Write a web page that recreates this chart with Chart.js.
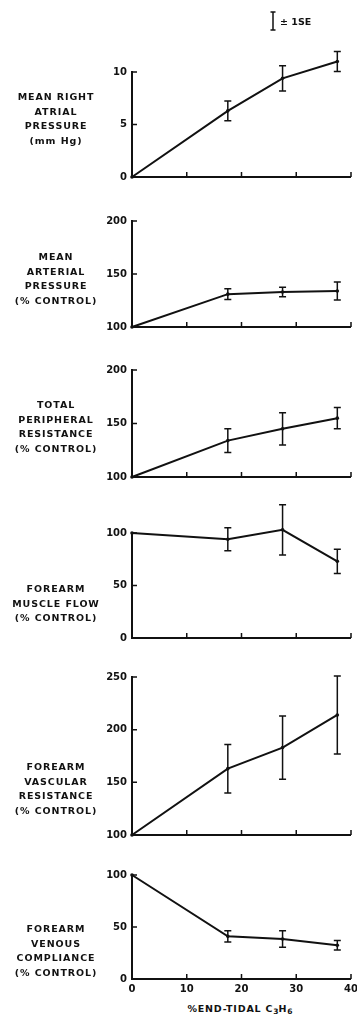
<!DOCTYPE html>
<html>
<head>
<meta charset="utf-8">
<script src="https://cdn.jsdelivr.net/npm/chart.js@4.4.1/dist/chart.umd.min.js"></script>
<style>
  body { margin: 0; background: #fff; width: 357px; height: 1018px; position: relative; overflow: hidden; font-family: "DejaVu Sans", sans-serif; color: #111; }
  canvas { position: absolute; left: 0; }
  .lbl { position: absolute; left: 0; width: 112px; text-align: center; font-weight: bold; font-size: 9.5px; letter-spacing: 0.9px; line-height: 14.5px; }
  .xtitle { position: absolute; left: 175px; top: 1003px; width: 130px; text-align: center; font-weight: bold; font-size: 9.5px; letter-spacing: 0.8px; }
  .xtitle sub { font-size: 7.5px; vertical-align: -2px; letter-spacing: 0; }
</style>
</head>
<body>
<div class="xtitle">%END-TIDAL C<sub>3</sub>H<sub>6</sub></div>
<script>
// % end-tidal C3H6
const xValues = [0, 17.5, 27.5, 37.5];
const xTicks = [0, 10, 20, 30, 40];

const rightAtrial = [0, 6.3, 9.4, 11.0];
const rightAtrialSE = [0, 0.95, 1.2, 0.95];

const arterialPressure = [100, 131, 133, 134];
const arterialPressureSE = [0, 5, 4.5, 8.5];

const peripheralRes = [100, 134, 145, 155];
const peripheralResSE = [0, 11, 15, 10];

const muscleFlow = [100, 94, 103, 73];
const muscleFlowSE = [0, 11, 24, 11.5];

const vascularRes = [100, 163, 183, 214];
const vascularResSE = [0, 23, 30, 37];

const venousCompliance = [100, 41, 38.5, 32.5];
const venousComplianceSE = [0, 5.5, 8, 4.5];

const labels = [
  ['MEAN RIGHT', 'ATRIAL', 'PRESSURE', '(mm Hg)'],
  ['MEAN', 'ARTERIAL', 'PRESSURE', '(% CONTROL)'],
  ['TOTAL', 'PERIPHERAL', 'RESISTANCE', '(% CONTROL)'],
  ['FOREARM', 'MUSCLE FLOW', '(% CONTROL)'],
  ['FOREARM', 'VASCULAR', 'RESISTANCE', '(% CONTROL)'],
  ['FOREARM', 'VENOUS', 'COMPLIANCE', '(% CONTROL)']
];

// layout: pixel rows of yMin / yMax, label top
const panels = [
  { values: rightAtrial, se: rightAtrialSE, min: 0, max: 12.5, axisTop: 10, ticks: [0, 5, 10], pBot: 177, pTop: 45.75, lblTop: 90 },
  { values: arterialPressure, se: arterialPressureSE, min: 100, max: 200, axisTop: 200, ticks: [100, 150, 200], pBot: 327, pTop: 221, lblTop: 250 },
  { values: peripheralRes, se: peripheralResSE, min: 100, max: 200, axisTop: 200, ticks: [100, 150, 200], pBot: 477, pTop: 370, lblTop: 398 },
  { values: muscleFlow, se: muscleFlowSE, min: 0, max: 130, axisTop: 100, ticks: [0, 50, 100], pBot: 638, pTop: 501.5, lblTop: 582 },
  { values: vascularRes, se: vascularResSE, min: 100, max: 260, axisTop: 250, ticks: [100, 150, 200, 250], pBot: 835, pTop: 666.5, lblTop: 760 },
  { values: venousCompliance, se: venousComplianceSE, min: 0, max: 100, axisTop: 100, ticks: [0, 50, 100], pBot: 979, pTop: 875, lblTop: 922 }
];

const ink = '#111';
const tickFont = { family: 'DejaVu Sans', size: 10, weight: 'bold' };

const axesPlugin = {
  id: 'axes',
  afterDatasetsDraw(chart) {
    const p = chart.options.plugins.axes;
    const { ctx } = chart;
    const x = chart.scales.x, y = chart.scales.y;
    const x0 = x.getPixelForValue(0), x1 = x.getPixelForValue(40);
    const y0 = y.getPixelForValue(p.min), yT = y.getPixelForValue(p.axisTop);
    ctx.save();
    ctx.strokeStyle = ink;
    ctx.lineWidth = 2;
    ctx.beginPath();
    ctx.moveTo(x0, yT - 1);
    ctx.lineTo(x0, y0);
    ctx.lineTo(x1, y0);
    ctx.stroke();

    ctx.lineWidth = 1.5;
    ctx.beginPath();
    xTicks.slice(1).forEach(v => {
      const px = x.getPixelForValue(v);
      ctx.moveTo(px, y0);
      ctx.lineTo(px, y0 - 5);
    });
    p.ticks.slice(1).forEach(v => {
      const py = y.getPixelForValue(v);
      ctx.moveTo(x0, py);
      ctx.lineTo(x0 + 5, py);
    });
    ctx.stroke();

    // error bars
    const meta = chart.getDatasetMeta(0);
    ctx.lineWidth = 1.5;
    ctx.beginPath();
    p.se.forEach((e, i) => {
      if (!e) return;
      const v = p.values[i];
      const px = meta.data[i].x;
      const t = y.getPixelForValue(v + e), b = y.getPixelForValue(v - e);
      ctx.moveTo(px, t); ctx.lineTo(px, b);
      ctx.moveTo(px - 3.5, t); ctx.lineTo(px + 3.5, t);
      ctx.moveTo(px - 3.5, b); ctx.lineTo(px + 3.5, b);
    });
    ctx.stroke();

    if (p.legend) {
      const lx = 273;
      ctx.beginPath();
      ctx.moveTo(lx, 12); ctx.lineTo(lx, 30);
      ctx.moveTo(lx - 2.5, 12); ctx.lineTo(lx + 2.5, 12);
      ctx.moveTo(lx - 2.5, 30); ctx.lineTo(lx + 2.5, 30);
      ctx.stroke();
      ctx.fillStyle = ink;
      ctx.font = 'bold 9.5px "DejaVu Sans"';
      ctx.textBaseline = 'alphabetic';
      ctx.fillText('± 1SE', 280, 25);
    }
    ctx.restore();
  }
};

panels.forEach((p, idx) => {
  const last = idx === panels.length - 1;
  const canvasTop = idx === 0 ? 0 : Math.floor(p.pTop - 10);
  const padTop = p.pTop - canvasTop;
  const xHeight = last ? 22 : 8;
  const height = Math.ceil(p.pBot - canvasTop + xHeight);

  const cv = document.createElement('canvas');
  cv.width = 357; cv.height = height;
  cv.style.width = '357px'; cv.style.height = height + 'px';
  cv.style.top = canvasTop + 'px';
  document.body.appendChild(cv);

  const lbl = document.createElement('div');
  lbl.className = 'lbl';
  lbl.style.top = p.lblTop + 'px';
  lbl.innerHTML = labels[idx].join('<br>');
  document.body.appendChild(lbl);

  new Chart(cv, {
    type: 'line',
    data: {
      datasets: [{
        data: xValues.map((v, i) => ({ x: v, y: p.values[i] })),
        borderColor: ink,
        borderWidth: 2,
        pointRadius: 1.8,
        pointBackgroundColor: ink,
        pointBorderWidth: 0,
        tension: 0,
        clip: false
      }]
    },
    options: {
      responsive: false,
      animation: false,
      layout: { padding: { top: padTop, bottom: 0, left: 0, right: 6 } },
      plugins: {
        legend: { display: false },
        tooltip: { enabled: false },
        axes: { min: p.min, axisTop: p.axisTop, ticks: p.ticks, values: p.values, se: p.se, legend: idx === 0 }
      },
      scales: {
        x: {
          type: 'linear', min: 0, max: 40,
          grid: { display: false, drawTicks: false },
          border: { display: false },
          afterBuildTicks: s => { s.ticks = xTicks.map(v => ({ value: v })); },
          afterFit: s => { s.height = xHeight; s.paddingLeft = 0; s.paddingRight = 0; },
          ticks: { display: last, color: ink, font: tickFont, padding: 4, maxRotation: 0 }
        },
        y: {
          type: 'linear', min: p.min, max: p.max,
          grid: { display: false, drawTicks: false },
          border: { display: false },
          afterBuildTicks: s => { s.ticks = p.ticks.map(v => ({ value: v })); },
          afterFit: s => { s.width = 132; s.paddingTop = 0; s.paddingBottom = 0; },
          ticks: { color: ink, font: tickFont, padding: 5 }
        }
      }
    },
    plugins: [axesPlugin]
  });
});
</script>
</body>
</html>
